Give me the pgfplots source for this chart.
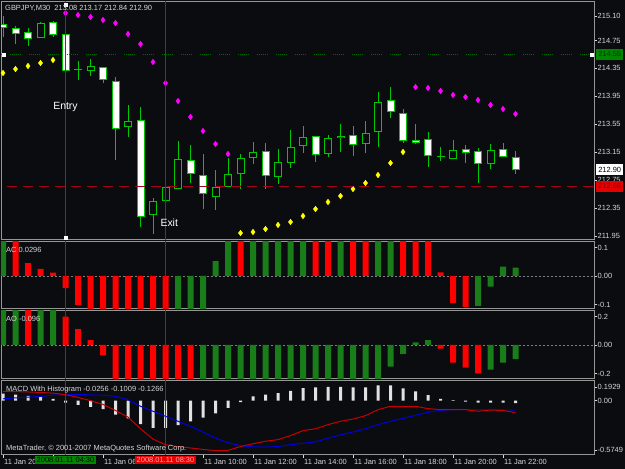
\documentclass[border=0pt]{standalone}
\usepackage{pgfplots}
\pgfplotsset{compat=1.18}
\usepackage{pgfplotstable}
\usepackage{fontspec}
\setmainfont{Liberation Sans}
\definecolor{bgc}{RGB}{10,12,15}
\definecolor{framec}{RGB}{150,150,150}
\definecolor{txtc}{RGB}{215,215,215}
\definecolor{candg}{RGB}{0,200,0}
\definecolor{barg}{RGB}{25,125,25}
\definecolor{barr}{RGB}{255,0,0}
\definecolor{sary}{RGB}{255,255,0}
\definecolor{sarm}{RGB}{255,0,255}
\definecolor{vgreen}{RGB}{0,110,0}
\definecolor{vred}{RGB}{200,0,30}
\definecolor{hred}{RGB}{170,0,25}
\definecolor{hgreen}{RGB}{0,105,0}
\definecolor{macdr}{RGB}{200,0,0}
\definecolor{macdb}{RGB}{0,0,225}
\definecolor{histc}{RGB}{225,225,225}
\definecolor{boxg}{RGB}{0,135,0}
\definecolor{boxr}{RGB}{230,0,0}
\newcommand\lbl{\fontsize{7.5}{8}\selectfont}

\pgfplotstableread{
i o h l c
0 214.985 215.100 214.799 214.928
1 214.928 214.957 214.699 214.842
2 214.871 214.928 214.670 214.771
3 214.785 215.014 214.785 215.000
4 215.014 215.028 214.799 214.828
5 214.842 214.842 214.313 214.313
6 214.345 214.456 214.184 214.330
7 214.313 214.484 214.241 214.384
8 214.370 214.370 214.141 214.184
9 214.169 214.227 213.038 213.482
10 213.511 213.826 213.367 213.597
11 213.611 213.797 212.079 212.222
12 212.251 212.494 211.979 212.451
13 212.451 212.652 212.451 212.652
14 212.623 213.310 212.623 213.053
15 213.038 213.253 212.709 212.838
16 212.823 213.124 212.337 212.551
17 212.508 212.895 212.322 212.652
18 212.652 213.067 212.652 212.838
19 212.838 213.124 212.623 213.067
20 213.067 213.296 212.981 213.153
21 213.167 213.282 212.623 212.809
22 212.795 213.196 212.695 213.010
23 212.995 213.468 212.924 213.224
24 213.239 213.525 213.138 213.367
25 213.382 213.382 213.010 213.110
26 213.124 213.396 213.081 213.353
27 213.353 213.554 213.153 213.382
28 213.396 213.525 213.095 213.253
29 213.267 213.597 213.138 213.425
30 213.439 214.012 213.224 213.869
31 213.897 214.083 213.640 213.725
32 213.711 213.768 213.282 213.310
33 213.325 213.554 213.267 213.282
34 213.339 213.439 212.938 213.095
35 213.100 213.224 213.024 213.088
36 213.053 213.325 213.053 213.181
37 213.196 213.253 212.995 213.138
38 213.167 213.210 212.709 212.981
39 212.981 213.267 212.909 213.181
40 213.196 213.282 213.081 213.081
41 213.080 213.170 212.840 212.900
}\candles

\pgfplotstableread{
i v
0 214.284
1 214.341
2 214.384
3 214.427
4 214.470
19 211.993
20 212.007
21 212.050
22 212.108
23 212.151
24 212.236
25 212.337
26 212.437
27 212.523
28 212.623
29 212.709
30 212.823
31 212.995
32 213.153
}\sarup

\pgfplotstableread{
i v
5 215.143
6 215.114
7 215.086
8 215.043
9 215.000
10 214.842
11 214.699
12 214.441
13 214.141
14 213.883
15 213.654
16 213.453
17 213.267
18 213.124
33 214.083
34 214.069
35 214.026
36 213.969
37 213.940
38 213.897
39 213.826
40 213.768
41 213.697
}\sardown

\pgfplotstableread{
i red blue hist
0 0.100 0.020 0.075
1 0.097 0.030 0.065
2 0.093 0.038 0.050
3 0.088 0.045 0.040
4 0.080 0.058 0.020
5 0.064 0.066 -0.020
6 0.035 0.065 -0.045
7 0.000 0.062 -0.065
8 -0.040 0.057 -0.090
9 -0.105 0.048 -0.150
10 -0.175 0.010 -0.190
11 -0.300 -0.060 -0.250
12 -0.410 -0.113 -0.290
13 -0.470 -0.167 -0.290
14 -0.490 -0.220 -0.260
15 -0.505 -0.273 -0.220
16 -0.520 -0.335 -0.180
17 -0.534 -0.400 -0.135
18 -0.530 -0.450 -0.078
19 -0.490 -0.480 -0.015
20 -0.460 -0.494 0.045
21 -0.433 -0.495 0.064
22 -0.416 -0.490 0.080
23 -0.373 -0.470 0.105
24 -0.320 -0.455 0.135
25 -0.300 -0.440 0.143
26 -0.256 -0.400 0.146
27 -0.220 -0.365 0.146
28 -0.196 -0.334 0.143
29 -0.160 -0.300 0.143
30 -0.096 -0.256 0.164
31 -0.060 -0.220 0.164
32 -0.060 -0.190 0.130
33 -0.060 -0.156 0.100
34 -0.085 -0.124 0.060
35 -0.096 -0.103 0.020
36 -0.096 -0.096 0.005
37 -0.096 -0.095 -0.010
38 -0.113 -0.095 -0.020
39 -0.100 -0.095 -0.020
40 -0.105 -0.097 -0.020
41 -0.127 -0.101 -0.026
}\macd

\pgfplotsset{
  mt/.style={
    scale only axis, width=593bp,
    xmin=-0.16, xmax=47.28,
    clip mode=individual,
    axis line style={draw=framec, line width=1bp},
    xtick=\empty,
    ytick pos=right, yticklabel pos=right,
    tick align=outside,
    major tick length=3bp,
    every tick/.style={draw=txtc, line width=0.6bp},
    yticklabel style={font=\lbl, text=txtc, anchor=west, inner sep=0pt, xshift=0.5bp},
    xticklabel style={font=\lbl, text=txtc, anchor=north west, inner sep=0pt, xshift=1bp, yshift=-1bp},
  },
}

\begin{document}
\begin{tikzpicture}[x=1bp,y=1bp]
\useasboundingbox (0,0) rectangle (625,469);
\fill[bgc] (0,0) rectangle (625,469);

% ---------------- price panel ----------------
\begin{axis}[mt, at={(1bp,229bp)}, anchor=south west, height=238bp,
  ymin=211.8928, ymax=215.3005,
  ytick={215.10,214.75,214.35,213.95,213.55,213.15,212.75,212.35,211.95},
  yticklabels={215.10,214.75,214.35,213.95,213.55,213.15,212.75,212.35,211.95}]
% wicks
\addplot[draw=none, mark=none, error bars/.cd, y dir=both, y explicit, error mark=none,
  error bar style={draw=candg, line width=1bp}]
  table[x=i, y expr={(\thisrow{h}+\thisrow{l})/2}, y error expr={(\thisrow{h}-\thisrow{l})/2}] {\candles};
% body outlines
\addplot[draw=none, mark=none, error bars/.cd, y dir=both, y explicit, error mark=none,
  error bar style={draw=candg, line width=8bp}]
  table[x=i, y expr={(\thisrow{o}+\thisrow{c})/2}, y error expr={max(abs(\thisrow{o}-\thisrow{c})/2,0.006)}] {\candles};
% bear bodies (white)
\addplot[draw=none, mark=none, error bars/.cd, y dir=both, y explicit, error mark=none,
  error bar style={draw=white, line width=6bp}]
  table[x=i, y expr={(\thisrow{o}+\thisrow{c})/2}, y error expr={ifthenelse(\thisrow{o}>\thisrow{c}, max(abs(\thisrow{o}-\thisrow{c})/2-0.0143,0), 0)}] {\candles};
% bull bodies (dark)
\addplot[draw=none, mark=none, error bars/.cd, y dir=both, y explicit, error mark=none,
  error bar style={draw=bgc, line width=6bp}]
  table[x=i, y expr={(\thisrow{o}+\thisrow{c})/2}, y error expr={ifthenelse(\thisrow{c}>\thisrow{o}, max(abs(\thisrow{o}-\thisrow{c})/2-0.0143,0), 0)}] {\candles};
% parabolic SAR
\addplot[only marks, mark=diamond*, mark size=2.8bp, color=sary] table[x=i, y=v] {\sarup};
\addplot[only marks, mark=diamond*, mark size=2.8bp, color=sarm] table[x=i, y=v] {\sardown};
% lines
\addplot[hgreen, line width=1bp, dash pattern=on 1bp off 1bp on 1bp off 1bp on 1bp off 1bp on 1bp off 1bp on 1bp off 1bp on 1bp off 8bp] coordinates {(-1,214.55) (48,214.55)};
\addplot[hred, line width=1bp, dash pattern=on 10bp off 6bp] coordinates {(-1,212.66) (48,212.66)};
\addplot[vgreen, line width=1bp] coordinates {(5,211.8) (5,215.4)};
\addplot[vred, line width=1bp] coordinates {(13,211.8) (13,215.4)};
\addplot[only marks, mark=square*, mark size=1.4bp, color=white] coordinates {(5,215.265) (5,211.93) (0.05,214.55) (47.08,214.55)};
% texts
\node[anchor=north west, font=\lbl, text=txtc, inner sep=0pt] at ([xshift=4bp,yshift=-3bp]rel axis cs:0,1) {GBPJPY,M30\ \ 213.08 213.17 212.84 212.90};
\node[font=\fontsize{10.5}{12}\selectfont, text=white, inner sep=0pt] at (axis cs:5,213.797) {Entry};
\node[font=\fontsize{10.5}{12}\selectfont, text=white, inner sep=0pt] at (axis cs:13.3,212.136) {Exit};
\node[anchor=west, fill=boxg, text={rgb,255:red,0;green,55;blue,0}, font=\lbl, inner sep=1.2bp, minimum width=27bp, minimum height=11bp] at ([xshift=2bp]axis cs:47.28,214.55) {214.55};
\node[anchor=west, fill=white, text=black, font=\lbl, inner sep=1.2bp, minimum width=27bp, minimum height=11bp] at ([xshift=2bp]axis cs:47.28,212.90) {212.90};
\node[anchor=west, fill=boxr, text={rgb,255:red,120;green,0;blue,0}, font=\lbl, inner sep=1.2bp, minimum width=27bp, minimum height=11bp] at ([xshift=2bp]axis cs:47.28,212.66) {212.66};
\end{axis}

% ---------------- AC panel ----------------
\begin{axis}[mt, at={(1bp,160bp)}, anchor=south west, height=67bp,
  ymin=-0.11579, ymax=0.1193,
  ytick={0.1,0,-0.1}, yticklabels={0.1,0.00,-0.1}]
\addplot[gray, line width=0.8bp, dash pattern=on 2bp off 2bp] coordinates {(-1,0) (48,0)};
\addplot[ybar, bar width=6bp, bar shift=0pt, fill=barg, draw=none] coordinates {
(0,0.15)(14,-0.15)(15,-0.15)(16,-0.15)(17,0.052)(18,0.15)(20,0.15)(21,0.15)(22,0.15)(23,0.15)(24,0.15)(27,0.15)(30,0.15)(31,0.15)(38,-0.105)(39,-0.037)(40,0.033)(41,0.0296)};
\addplot[ybar, bar width=6bp, bar shift=0pt, fill=barr, draw=none] coordinates {
(1,0.15)(2,0.045)(3,0.025)(4,0.012)(5,-0.043)(6,-0.102)(7,-0.15)(8,-0.15)(9,-0.15)(10,-0.15)(11,-0.15)(12,-0.15)(13,-0.15)(19,0.15)(25,0.15)(26,0.15)(28,0.15)(29,0.15)(32,0.15)(33,0.15)(34,0.15)(35,0.013)(36,-0.094)(37,-0.108)};
\addplot[vgreen, line width=1bp] coordinates {(5,-0.2) (5,0.2)};
\addplot[vred, line width=1bp] coordinates {(13,-0.2) (13,0.2)};
\node[anchor=north west, font=\lbl, text=txtc, inner sep=0pt] at ([xshift=5bp,yshift=-5bp]rel axis cs:0,1) {AC 0.0296};
\end{axis}

% ---------------- AO panel ----------------
\begin{axis}[mt, at={(1bp,90bp)}, anchor=south west, height=68bp,
  ymin=-0.2386, ymax=0.2386,
  ytick={0.2,0,-0.2}, yticklabels={0.2,0.00,-0.2}]
\addplot[gray, line width=0.8bp, dash pattern=on 2bp off 2bp] coordinates {(-1,0) (48,0)};
\addplot[ybar, bar width=6bp, bar shift=0pt, fill=barg, draw=none] coordinates {
(0,0.3)(1,0.3)(3,0.3)(4,0.3)(16,-0.3)(17,-0.3)(18,-0.3)(19,-0.3)(20,-0.3)(21,-0.3)(22,-0.3)(23,-0.3)(24,-0.3)(25,-0.3)(26,-0.3)(27,-0.3)(28,-0.3)(29,-0.3)(30,-0.3)(31,-0.152)(32,-0.063)(33,0.019)(34,0.035)(39,-0.173)(40,-0.124)(41,-0.1)};
\addplot[ybar, bar width=6bp, bar shift=0pt, fill=barr, draw=none] coordinates {
(2,0.3)(5,0.199)(6,0.112)(7,0.035)(8,-0.072)(9,-0.3)(10,-0.3)(11,-0.3)(12,-0.3)(13,-0.3)(14,-0.3)(15,-0.3)(35,-0.026)(36,-0.124)(37,-0.159)(38,-0.199)};
\addplot[vgreen, line width=1bp] coordinates {(5,-0.3) (5,0.3)};
\addplot[vred, line width=1bp] coordinates {(13,-0.3) (13,0.3)};
\node[anchor=north west, font=\lbl, text=txtc, inner sep=0pt] at ([xshift=5bp,yshift=-5bp]rel axis cs:0,1) {AO -0.096};
\end{axis}

% ---------------- MACD panel ----------------
\begin{axis}[mt, at={(1bp,14bp)}, anchor=south west, height=74bp,
  ymin=-0.58, ymax=0.21,
  ytick={0.146,0,-0.526}, yticklabels={0.1929,0.00,-0.5749},
  xtick={0,4,8,12,16,20,24,28,32,36,40},
  xticklabels={11 Jan 20,,11 Jan 06:,,11 Jan 10:00,11 Jan 12:00,11 Jan 14:00,11 Jan 16:00,11 Jan 18:00,11 Jan 20:00,11 Jan 22:00},
  xtick pos=bottom, xticklabel pos=lower]
\addplot[ybar, bar width=3bp, bar shift=0pt, fill=histc, draw=none] table[x=i, y=hist] {\macd};
\addplot[macdb, line width=1bp] table[x=i, y=blue] {\macd};
\addplot[macdr, line width=1bp] table[x=i, y=red] {\macd};
\addplot[vgreen, line width=1bp] coordinates {(5,-0.7) (5,0.3)};
\addplot[vred, line width=1bp] coordinates {(13,-0.7) (13,0.3)};
\node[anchor=north west, font=\lbl, text=txtc, inner sep=0pt] at ([xshift=5bp,yshift=-5bp]rel axis cs:0,1) {MACD With Histogram -0.0256 -0.1009 -0.1266};
\node[anchor=south west, font=\lbl, text=txtc, inner sep=0pt] at ([xshift=5bp,yshift=3bp]rel axis cs:0,0) {MetaTrader, \textcopyright{} 2001-2007 MetaQuotes Software Corp.};
\node[anchor=north, fill=boxg, text=black, font=\lbl, inner sep=1.5bp] at ([yshift=-1bp]axis cs:5,-0.58) {2008.01.11 04:30};
\node[anchor=north, fill=boxr, text={rgb,255:red,255;green,170;blue,170}, font=\lbl, inner sep=1.5bp] at ([yshift=-1bp]axis cs:13,-0.58) {2008.01.11 08:30};
\end{axis}
\end{tikzpicture}
\end{document}
